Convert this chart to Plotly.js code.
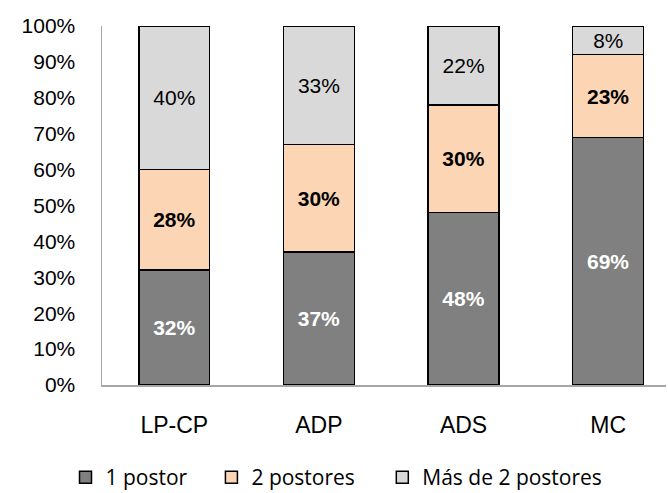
<!DOCTYPE html>
<html>
<head>
<meta charset="utf-8">
<script src="https://cdn.plot.ly/plotly-3.0.1.min.js"></script>
<style>html,body{margin:0;padding:0;background:#fff;}#chart{width:668px;height:493px;}</style>
</head>
<body>
<div id="chart"></div>
<script>
const categories = ["LP-CP", "ADP", "ADS", "MC"];
const seriesNames = ["1 postor", "2 postores", "Más de 2 postores"];
const onePostor = [32, 37, 48, 69];
const twoPostores = [28, 30, 30, 23];
const morePostores = [40, 33, 22, 8];
const yTicks = [0, 10, 20, 30, 40, 50, 60, 70, 80, 90, 100];

const colors = ["#808080", "#FCD5B5", "#D9D9D9"];
const labelFonts = [
  {family: "Liberation Sans, Arial, sans-serif", size: 21, color: "#ffffff", weight: 700},
  {family: "Liberation Sans, Arial, sans-serif", size: 21, color: "#000000", weight: 700},
  {family: "Liberation Sans, Arial, sans-serif", size: 21, color: "#000000", weight: 400}
];
const values = [onePostor, twoPostores, morePostores];
const legendIds = ["legend", "legend2", "legend3"];
const legendX = [-0.0647, 0.194, 0.497];

const traces = values.map((v, i) => ({
  type: "bar",
  name: seriesNames[i],
  legend: legendIds[i],
  x: categories,
  y: v,
  text: v.map(n => n + "%"),
  texttemplate: "%{text}",
  marker: {color: colors[i], line: {color: "#000000", width: 1.5}},
  textposition: "inside",
  insidetextanchor: "middle",
  textangle: 0,
  textfont: labelFonts[i],
  hoverinfo: "skip"
}));

const legendBase = {
  orientation: "h",
  xref: "paper", yref: "paper",
  xanchor: "left",
  y: -0.258, yanchor: "middle",
  bgcolor: "rgba(0,0,0,0)",
  font: {family: "Open Sans, Noto Sans, sans-serif", size: 21, color: "#000000"}
};

const layout = {
  width: 668, height: 493,
  margin: {l: 102, r: 2, t: 26, b: 108, autoexpand: false},
  barmode: "stack",
  bargap: 0.51,
  paper_bgcolor: "#ffffff",
  plot_bgcolor: "#ffffff",
  showlegend: true,
  xaxis: {
    range: [-0.5, 3.4],
    showline: true, linecolor: "#A6A6A6", linewidth: 1.5,
    showgrid: false, zeroline: false,
    ticks: "", ticklabelstandoff: 19,
    tickfont: {family: "Liberation Sans, Arial, sans-serif", size: 23, color: "#000000"}
  },
  yaxis: {
    range: [0, 100],
    tickvals: yTicks,
    ticktext: yTicks.map(t => t + "%"),
    showline: true, linecolor: "#A6A6A6", linewidth: 1.5,
    showgrid: false, zeroline: false,
    ticks: "", ticklabelstandoff: 21,
    tickfont: {family: "Liberation Sans, Arial, sans-serif", size: 21, color: "#000000"}
  }
};
legendIds.forEach((id, i) => {
  layout[id] = Object.assign({}, legendBase, {x: legendX[i]});
});

Plotly.newPlot("chart", traces, layout, {displayModeBar: false, staticPlot: true});
</script>
</body>
</html>
